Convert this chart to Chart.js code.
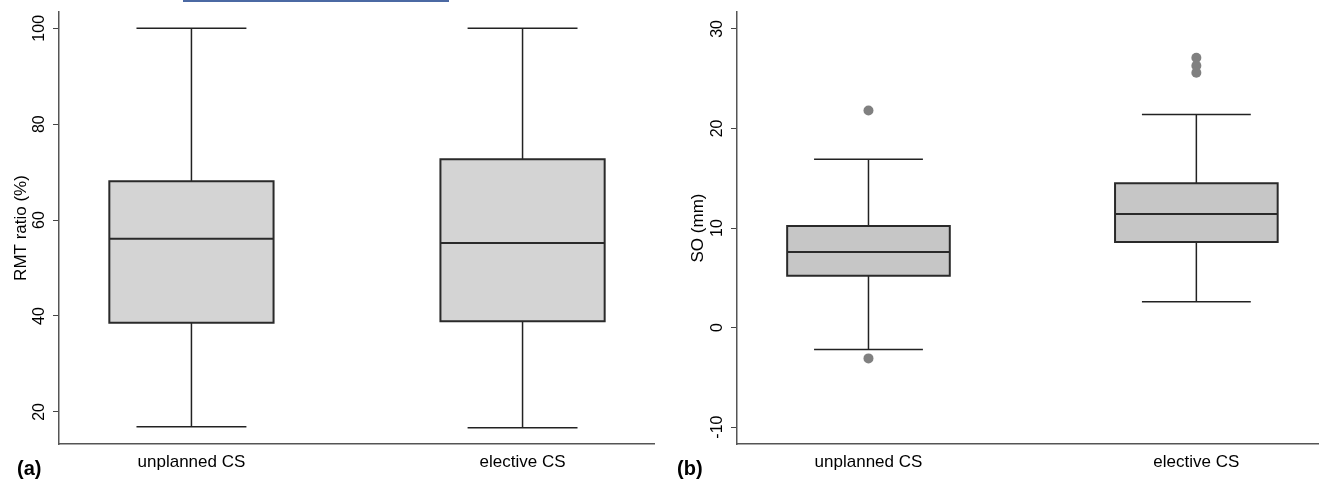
<!DOCTYPE html>
<html lang="en">
<head>
    <meta charset="UTF-8">
    <title>RMT ratio and SO by type of caesarean section</title>
    <script src="https://cdn.jsdelivr.net/npm/chart.js"></script>
    <style>
        body {
            margin: 0;
            background: #fff;
            font-family: "Liberation Sans", Arial, sans-serif;
        }
        #wrap {
            position: relative;
            width: 1323px;
            height: 479px;
            overflow: hidden;
        }
        .panel {
            position: absolute;
            top: 0;
        }
        #panelA { left: 0; }
        #panelB { left: 660px; }
        .tag {
            position: absolute;
            top: 458px;
            font-size: 20px;
            line-height: 20px;
            font-weight: bold;
            color: #000;
        }
        #strip {
            position: absolute;
            left: 183px;
            top: 0;
            width: 266px;
            height: 2px;
            background: #4b69a3;
        }
    </style>
</head>
<body>
    <div id="wrap">
        <div id="strip"></div>
        <canvas id="panelA" class="panel" width="660" height="479"></canvas>
        <canvas id="panelB" class="panel" width="663" height="479"></canvas>
        <div class="tag" style="left:17px">(a)</div>
        <div class="tag" style="left:677px">(b)</div>
    </div>

    <script>
        const groups = ["unplanned CS", "elective CS"];

        // (a) RMT ratio (%)
        const rmtMin = [16.9, 16.7];
        const rmtQ1 = [38.6, 38.9];
        const rmtMedian = [56.1, 55.2];
        const rmtQ3 = [68.1, 72.7];
        const rmtMax = [100, 100];
        const rmtOutliers = [[], []];
        const rmtTicks = [20, 40, 60, 80, 100];

        // (b) SO (mm)
        const soMin = [-2.2, 2.6];
        const soQ1 = [5.2, 8.6];
        const soMedian = [7.6, 11.4];
        const soQ3 = [10.2, 14.5];
        const soMax = [16.9, 21.4];
        const soOutliers = [[21.8, -3.1], [27.1, 26.3, 25.6]];
        const soTicks = [-10, 0, 10, 20, 30];

        const BOX = 0.248;   // half box width, in category units
        const CAP = 0.166;   // half whisker cap width
        const FONT = '"Liberation Sans", Arial, sans-serif';

        function seg(points, color, width, order) {
            return {
                type: 'line',
                data: points,
                borderColor: color,
                borderWidth: width,
                pointRadius: 0,
                tension: 0,
                fill: false,
                order: order
            };
        }

        // lower order = drawn on top
        function boxDatasets(mins, q1s, meds, q3s, maxs, outs, fillColor) {
            let sets = [];
            groups.forEach((g, i) => {
                sets.push(seg([{x: i, y: q3s[i]}, {x: i, y: maxs[i]}, {x: i - CAP, y: maxs[i]}, {x: i + CAP, y: maxs[i]}], '#222', 1.5, 3));
                sets.push(seg([{x: i, y: q1s[i]}, {x: i, y: mins[i]}, {x: i - CAP, y: mins[i]}, {x: i + CAP, y: mins[i]}], '#222', 1.5, 3));
                let box = seg([
                    {x: i - BOX, y: q1s[i]}, {x: i + BOX, y: q1s[i]},
                    {x: i + BOX, y: q3s[i]}, {x: i - BOX, y: q3s[i]},
                    {x: i - BOX, y: q1s[i]}
                ], '#2a2a2a', 2, 2);
                box.fill = 'shape';
                box.backgroundColor = fillColor;
                box.borderJoinStyle = 'miter';
                box.borderCapStyle = 'square';
                sets.push(box);
                sets.push(seg([{x: i - BOX, y: meds[i]}, {x: i + BOX, y: meds[i]}], '#2a2a2a', 2, 1));
                if (outs[i].length) {
                    sets.push({
                        type: 'scatter',
                        data: outs[i].map(v => ({x: i, y: v})),
                        pointRadius: 5,
                        pointBorderWidth: 0,
                        backgroundColor: '#808080',
                        borderColor: '#808080',
                        order: 0
                    });
                }
            });
            return sets;
        }

        // y tick labels are drawn turned on their side, as in the original figure
        const sideTicks = {
            id: 'sideTicks',
            afterDraw(chart, args, opts) {
                const y = chart.scales.y;
                const ctx = chart.ctx;
                ctx.save();
                ctx.font = '16px ' + FONT;
                ctx.fillStyle = '#000';
                ctx.textAlign = 'center';
                ctx.textBaseline = 'middle';
                y.ticks.forEach(t => {
                    ctx.save();
                    ctx.translate(opts.x, y.getPixelForValue(t.value));
                    ctx.rotate(-Math.PI / 2);
                    ctx.fillText(String(t.value), 0, 0);
                    ctx.restore();
                });
                ctx.restore();
            }
        };

        function makeChart(id, datasets, p) {
            return new Chart(document.getElementById(id), {
                type: 'scatter',
                data: { datasets: datasets },
                plugins: [sideTicks],
                options: {
                    responsive: false,
                    animation: false,
                    layout: { padding: { top: 12, right: p.padRight, left: 0, bottom: 0 } },
                    plugins: {
                        legend: { display: false },
                        tooltip: { enabled: false },
                        sideTicks: { x: p.tickX }
                    },
                    scales: {
                        x: {
                            type: 'linear',
                            min: p.xMin,
                            max: p.xMax,
                            afterBuildTicks: s => { s.ticks = groups.map((g, i) => ({value: i})); },
                            afterFit: s => { s.height = 35; },
                            ticks: {
                                callback: v => groups[v],
                                color: '#000',
                                font: { family: FONT, size: 17 },
                                padding: 0,
                                maxRotation: 0
                            },
                            grid: { display: false },
                            border: { display: true, color: '#555', width: 1.5 }
                        },
                        y: {
                            min: p.yMin,
                            max: p.yMax,
                            afterBuildTicks: s => { s.ticks = p.ticks.map(v => ({value: v})); },
                            afterFit: s => { s.width = p.axisW; },
                            ticks: { display: false },
                            grid: { drawOnChartArea: false, drawTicks: true, tickLength: 6, tickColor: '#444', tickWidth: 1 },
                            border: { display: true, color: '#555', width: 1.5 },
                            title: {
                                display: true,
                                text: p.title,
                                color: '#000',
                                font: { family: FONT, size: 17 },
                                padding: { top: p.titlePad, bottom: 0 }
                            }
                        }
                    }
                }
            });
        }

        makeChart('panelA',
            boxDatasets(rmtMin, rmtQ1, rmtMedian, rmtQ3, rmtMax, rmtOutliers, '#d4d4d4'),
            { xMin: -0.4, xMax: 1.397, yMin: 13.3, yMax: 103.4, ticks: rmtTicks, axisW: 59, padRight: 6, tickX: 40, title: 'RMT ratio (%)', titlePad: 11 });

        makeChart('panelB',
            boxDatasets(soMin, soQ1, soMedian, soQ3, soMax, soOutliers, '#c6c6c6'),
            { xMin: -0.401, xMax: 1.371, yMin: -11.7, yMax: 31.7, ticks: soTicks, axisW: 77, padRight: 3, tickX: 57.5, title: 'SO (mm)', titlePad: 28 });
    </script>
</body>
</html>
